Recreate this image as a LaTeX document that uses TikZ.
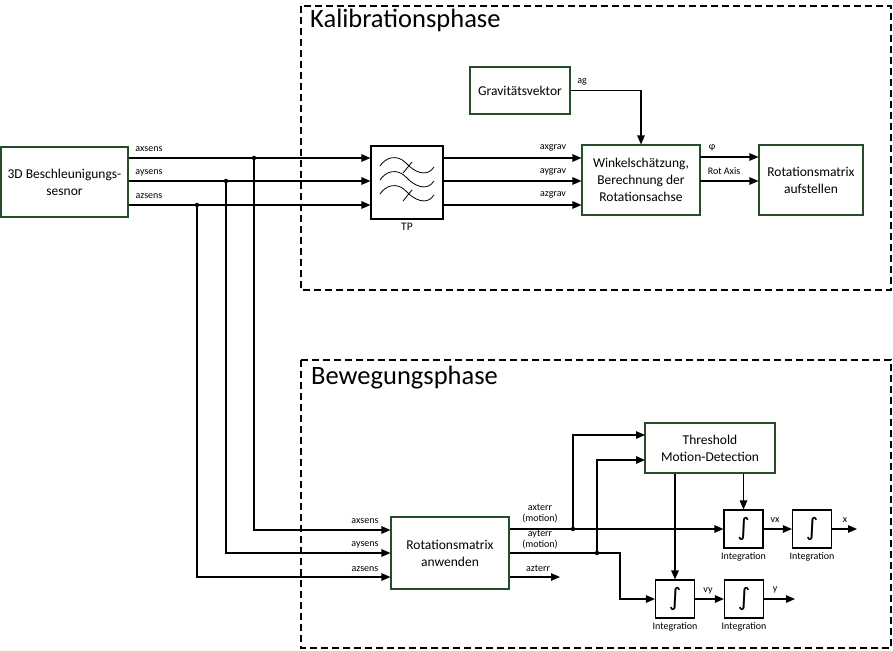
\documentclass[tikz,border=0pt]{standalone}
\usepackage{fontspec}
\setmainfont{Carlito}
\newfontfamily\dejavu{DejaVu Sans}
\usetikzlibrary{arrows.meta}
\definecolor{boxgreen}{RGB}{38,78,44}
\begin{document}
\begin{tikzpicture}[x=1pt,y=-1pt,
  gbox/.style={draw=boxgreen,line width=1.1pt,align=center,inner sep=0pt,font=\fontsize{13.5}{17}\selectfont},
  kbox/.style={draw=black,line width=1.1pt,inner sep=0pt},
  sig/.style={line width=1.2pt,-{Triangle[length=9pt,width=7.5pt]}},
  lbl/.style={font=\fontsize{10}{11}\selectfont,inner sep=1pt,align=center},
  title/.style={font=\fontsize{26.5}{30}\selectfont,anchor=base west,inner sep=0pt},
  phase/.style={dashed,dash pattern=on 7pt off 4pt,line width=1.1pt},
  dot/.style={circle,fill=black,inner sep=0pt,minimum size=4.5pt},
  intbox/.style={kbox,minimum width=39pt,minimum height=38pt,font=\dejavu\fontsize{24}{24}\selectfont}
]
\useasboundingbox (0,0) rectangle (893,650);
% phases
\draw[phase] (301,6) rectangle (891,290);
\draw[phase] (301,360) rectangle (891,648);
\node[title] (t1) at (310,28) {Kalibrationsphase};
\node[title] (t2) at (311,384) {Bewegungsphase};

% boxes
\node[gbox,minimum width=127pt,minimum height=70pt] (sens) at (64.5,182) {3D Beschleunigungs-\\sesnor};
\node[kbox,minimum width=72pt,minimum height=73pt] (tp) at (407,182.5) {};
\node[lbl,font=\fontsize{11.5}{12}\selectfont] (tplbl) at (407,227) {TP};
\node[gbox,minimum width=118pt,minimum height=70pt] (wink) at (641,180) {Winkelschätzung,\\Berechnung der\\Rotationsachse};
\node[gbox,minimum width=100pt,minimum height=47pt] (grav) at (520,90.5) {Gravitätsvektor};
\node[gbox,minimum width=104pt,minimum height=70pt] (rauf) at (811,180) {Rotationsmatrix\\aufstellen};
\node[gbox,minimum width=118pt,minimum height=72pt] (ranw) at (450,553) {Rotationsmatrix\\anwenden};
\node[gbox,minimum width=130pt,minimum height=50pt] (thr) at (710,448) {Threshold\\Motion-Detection};
\node[intbox] (ix1) at (743.5,529) {∫};
\node[intbox] (ix2) at (812,529) {∫};
\node[intbox] (iy1) at (675,599) {∫};
\node[intbox] (iy2) at (744,599) {∫};
\node[lbl] (lix1) at (743.5,557) {Integration};
\node[lbl] (lix2) at (812,557) {Integration};
\node[lbl] (liy1) at (675,627) {Integration};
\node[lbl] (liy2) at (744,627) {Integration};

% TP symbol
\begin{scope}[line width=0.8pt]
\foreach \dy in {0,14,28}{
  \draw (380,166+\dy) .. controls (386,157+\dy) and (397,154+\dy) .. (406,163+\dy)
        .. controls (414,172+\dy) and (427,178+\dy) .. (434,167+\dy);
}
\draw (403,173) -- (412,162);
\draw (403,201) -- (412,190);
\end{scope}

% junctions
\node[dot] (jx) at (254,158) {};
\node[dot] (jy) at (226,181) {};
\node[dot] (jz) at (197,205) {};
\coordinate (bx) at (254,530);
\coordinate (by) at (226,553);
\coordinate (bz) at (197,577);

% sensor -> TP
\draw[sig] (sens.east |- jx) -- (tp.west |- jx);
\draw[sig] (sens.east |- jy) -- (tp.west |- jy);
\draw[sig] (sens.east |- jz) -- (tp.west |- jz);
\node[lbl] (l1) at (149,149) {axsens};
\node[lbl] (l2) at (149,173) {aysens};
\node[lbl] (l3) at (149,196) {azsens};

% TP -> Winkel
\draw[sig] (tp.east |- jx) -- (wink.west |- jx);
\draw[sig] (tp.east |- jy) -- (wink.west |- jy);
\draw[sig] (tp.east |- jz) -- (wink.west |- jz);
\node[lbl] (l4) at (553,148) {axgrav};
\node[lbl] (l5) at (553,172) {aygrav};
\node[lbl] (l6) at (553,195) {azgrav};

% grav -> Winkel
\draw[sig] (grav.east) -| (wink.north);
\node[lbl] (lag) at (582,82) {ag};

% Winkel -> Rotationsmatrix aufstellen
\coordinate (wphi) at (700,157);
\coordinate (wrot) at (700,181);
\draw[sig] (wphi) -- (rauf.west |- wphi);
\draw[sig] (wrot) -- (rauf.west |- wrot);
\node[lbl] (lphi) at (712,148) {φ};
\node[lbl] (lrot) at (724,171) {Rot Axis};

% down to Rotationsmatrix anwenden
\draw[sig] (jx.center) -- (bx) -- (ranw.west |- bx);
\draw[sig] (jy.center) -- (by) -- (ranw.west |- by);
\draw[sig] (jz.center) -- (bz) -- (ranw.west |- bz);
\node[lbl] (l7) at (365,521) {axsens};
\node[lbl] (l8) at (365,545) {aysens};
\node[lbl] (l9) at (365,569) {azsens};

% outputs of Rotationsmatrix anwenden
\node[dot] (j2) at (573,529) {};
\node[dot] (j3) at (597,553) {};
\coordinate (tin1) at (645,435);
\coordinate (tin2) at (645,460);
\coordinate (ybend) at (620,553);
\coordinate (azend) at (560,577);
\draw[sig] (ranw.east |- j2) -- (ix1.west |- j2);
\draw[sig] (j2.center) |- (tin1);
\draw[sig] (ranw.east |- j3) -- (ybend) |- (iy1.west);
\draw[sig] (j3.center) |- (tin2);
\draw[sig] (ranw.east |- azend) -- (azend);
\node[lbl,font=\fontsize{10}{11}\selectfont] (l10) at (540,514) {axterr\\(motion)};
\node[lbl,font=\fontsize{10}{11}\selectfont] (l11) at (540,540) {ayterr\\(motion)};
\node[lbl] (l12) at (538,568) {azterr};

% threshold -> integrators
\draw[sig] (thr.south -| ix1.north) -- (ix1.north);
\draw[sig] (thr.south -| iy1.north) -- (iy1.north);

% integrator chains
\coordinate (xend) at (857,529);
\coordinate (yend) at (795,599);
\draw[sig] (ix1.east) -- (ix2.west);
\draw[sig] (ix2.east) -- (xend);
\draw[sig] (iy1.east) -- (iy2.west);
\draw[sig] (iy2.east) -- (yend);
\node[lbl] (lvx) at (775,520) {vx};
\node[lbl] (lx) at (845,520) {x};
\node[lbl] (lvy) at (708,591) {vy};
\node[lbl] (ly) at (775,590) {y};
\end{tikzpicture}
\end{document}
